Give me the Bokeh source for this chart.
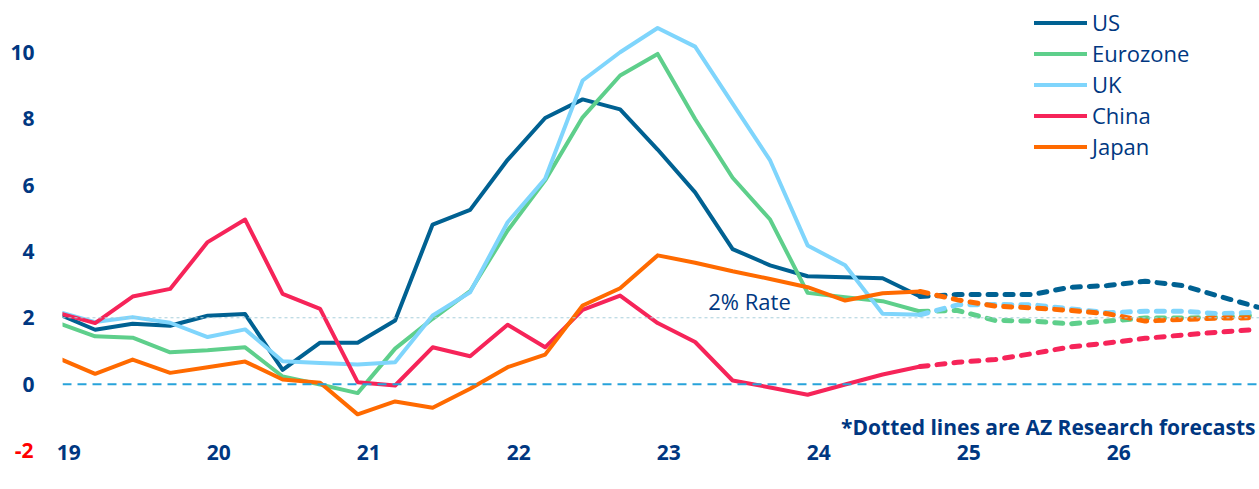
from bokeh.plotting import figure
from bokeh.models import Span, Label, Legend, LegendItem, FixedTicker, LinearAxis
from bokeh.embed import file_html
from bokeh.resources import INLINE

# ---- data (quarterly, Q1 2019 .. Q1 2027; index 0..32) ----
quarters = list(range(33))
actual_idx = quarters[:24]          # Q1 2019 .. Q4 2024
forecast_idx = quarters[23:]        # Q4 2024 .. Q1 2027

us_actual = [2.12, 1.64, 1.82, 1.76, 2.06, 2.11, 0.43, 1.25, 1.25, 1.92, 4.81, 5.25,
             6.76, 8.02, 8.58, 8.28, 7.07, 5.78, 4.07, 3.58, 3.25, 3.22, 3.19, 2.64]
us_forecast = [2.64, 2.70, 2.70, 2.70, 2.92, 2.97, 3.10, 2.97, 2.64, 2.32]

ez_actual = [1.85, 1.44, 1.40, 0.96, 1.02, 1.11, 0.23, -0.01, -0.27, 1.07, 1.97, 2.80,
             4.63, 6.14, 8.04, 9.30, 9.95, 7.99, 6.22, 4.96, 2.75, 2.62, 2.50, 2.19]
ez_forecast = [2.19, 2.22, 1.92, 1.90, 1.82, 1.90, 1.99, 1.99, 2.01, 2.08]

uk_actual = [2.19, 1.87, 2.02, 1.85, 1.42, 1.65, 0.69, 0.64, 0.59, 0.66, 2.07, 2.77,
             4.88, 6.19, 9.15, 10.0, 10.73, 10.17, 8.45, 6.74, 4.18, 3.58, 2.12, 2.09]
uk_forecast = [2.09, 2.39, 2.40, 2.39, 2.27, 2.15, 2.20, 2.20, 2.12, 2.17]

cn_actual = [2.15, 1.84, 2.64, 2.87, 4.28, 4.96, 2.72, 2.27, 0.06, -0.04, 1.11, 0.84,
             1.79, 1.11, 2.24, 2.67, 1.84, 1.27, 0.11, -0.10, -0.32, -0.01, 0.29, 0.53]
cn_forecast = [0.53, 0.66, 0.74, 0.92, 1.12, 1.24, 1.38, 1.48, 1.57, 1.65]

jp_actual = [0.79, 0.31, 0.74, 0.34, 0.51, 0.68, 0.14, 0.04, -0.91, -0.52, -0.71, -0.14,
             0.51, 0.89, 2.37, 2.89, 3.88, 3.66, 3.40, 3.17, 2.92, 2.52, 2.74, 2.79]
jp_forecast = [2.79, 2.54, 2.35, 2.30, 2.22, 2.12, 1.90, 1.95, 1.99, 2.00]

series_names = ["US", "Eurozone", "UK", "China", "Japan"]
series_colors = ["#006192", "#5ecf8b", "#7fd5fc", "#f62459", "#ff6a00"]
series_actual = [us_actual, ez_actual, uk_actual, cn_actual, jp_actual]
series_forecast = [us_forecast, ez_forecast, uk_forecast, cn_forecast, jp_forecast]

year_ticks = [0.3, 4.3, 8.3, 12.3, 16.3, 20.3, 24.3, 28.3]
year_labels = ["19", "20", "21", "22", "23", "24", "25", "26"]
y_ticks = [0, 2, 4, 6, 8, 10]
neg_ticks = [-2]
neg_labels = ["-2"]

NAVY = "#003781"
FONT = "Open Sans"

p = figure(width=1259, height=489, x_range=(0.13, 32.05), y_range=(-2.15, 11.56),
           output_backend="svg", toolbar_location=None,
           min_border_left=62, min_border_right=0, min_border_top=0, min_border_bottom=34)
p.outline_line_color = None
p.xgrid.visible = False
p.ygrid.visible = False
p.background_fill_color = "white"
p.border_fill_color = "white"

# reference lines
p.add_layout(Span(location=2, dimension="width", line_color="#a9cfdc", line_width=1,
                  line_dash="3 3"))
p.add_layout(Span(location=0, dimension="width", line_color="#28a3da", line_width=2,
                  line_dash="9 6"))

items = []
for name, col, act, fc in zip(series_names, series_colors, series_actual, series_forecast):
    r = p.line(actual_idx, act, line_color=col, line_width=4, line_cap="round",
               line_join="round")
    p.line(forecast_idx, fc, line_color=col, line_width=5, line_dash="8 9",
           line_cap="round", line_join="round")
    items.append(LegendItem(label=name, renderers=[r]))

legend = Legend(items=items, location="top_right", orientation="vertical",
                label_text_font=FONT, label_text_font_size="22px",
                label_text_color=NAVY, label_text_font_style="normal",
                glyph_width=53, glyph_height=25, label_height=25, label_width=160,
                label_standoff=5, spacing=1, padding=0, margin=7,
                border_line_color=None, background_fill_alpha=0)
p.add_layout(legend)

# axes
xa = p.xaxis[0]
xa.ticker = FixedTicker(ticks=year_ticks)
xa.major_label_overrides = {t: l for t, l in zip(year_ticks, year_labels)}
xa.axis_line_color = None
xa.major_tick_line_color = None
xa.minor_tick_line_color = None
xa.major_tick_out = 0
xa.major_tick_in = 0
xa.major_label_standoff = -11
xa.major_label_text_font = FONT
xa.major_label_text_font_size = "21px"
xa.major_label_text_font_style = "bold"
xa.major_label_text_color = NAVY

def style_y(ax, ticks, color, standoff):
    ax.ticker = FixedTicker(ticks=ticks)
    ax.axis_line_color = None
    ax.major_tick_line_color = None
    ax.minor_tick_line_color = None
    ax.major_tick_out = 0
    ax.major_tick_in = 0
    ax.major_label_standoff = standoff
    ax.major_label_text_font = FONT
    ax.major_label_text_font_size = "21px"
    ax.major_label_text_font_style = "bold"
    ax.major_label_text_color = color

style_y(p.yaxis[0], y_ticks, NAVY, 28)
neg_axis = LinearAxis()
style_y(neg_axis, neg_ticks, "#ff0000", -26)
neg_axis.major_label_overrides = {t: l for t, l in zip(neg_ticks, neg_labels)}
p.add_layout(neg_axis, "left")

p.add_layout(Label(x=18.45, y=2.52, text="2% Rate", text_align="center",
                   text_baseline="middle", text_font=FONT, text_font_size="22px",
                   text_font_style="normal", text_color=NAVY))

p.add_layout(Label(x=32.05, y=-1.3, x_offset=-4, text="*Dotted lines are AZ Research forecasts",
                   text_align="right", text_baseline="middle", text_font=FONT,
                   text_font_size="21px", text_font_style="bold", text_color=NAVY))

open("out.html", "w").write(file_html(p, INLINE))
